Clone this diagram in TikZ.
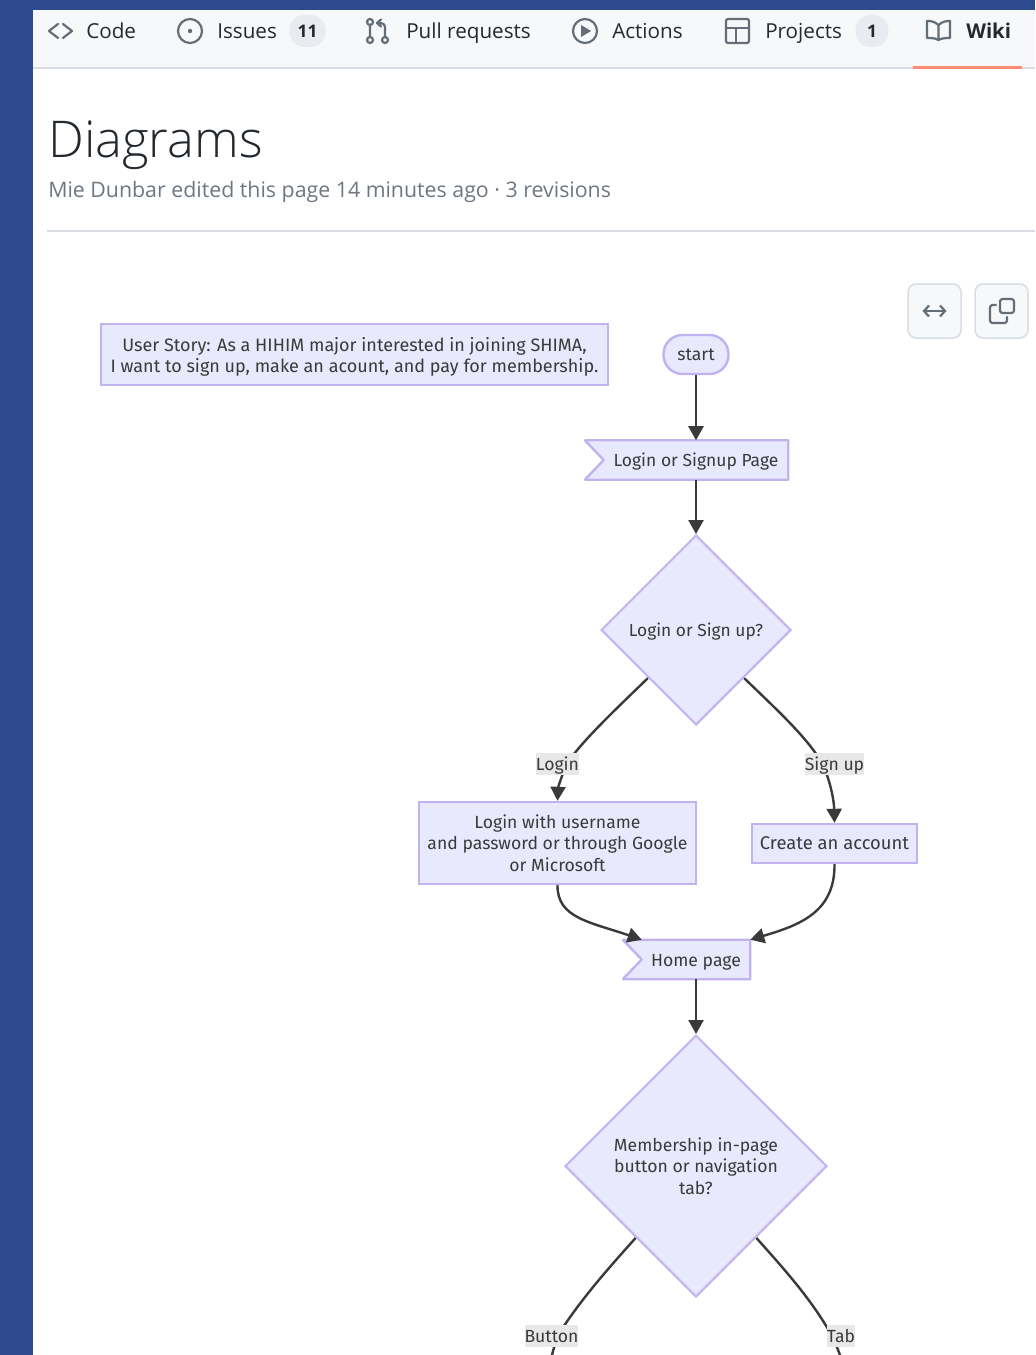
\documentclass[tikz,border=0pt]{standalone}
\usepackage{fontspec}
\setmainfont{Open Sans}
\newfontfamily\flowfont{Fira Sans}
\newfontfamily\titlefont{Open Sans Light}
\usetikzlibrary{arrows.meta,shapes.geometric,calc}
\definecolor{band}{HTML}{2F4B8F}
\definecolor{tabbg}{HTML}{F6F8FA}
\definecolor{rule}{HTML}{D8DEE4}
\definecolor{icon}{HTML}{656D76}
\definecolor{subtle}{HTML}{6E7781}
\definecolor{ink}{HTML}{24292F}
\definecolor{accent}{HTML}{FD8C73}
\definecolor{nodefill}{HTML}{E9E9FD}
\definecolor{nodeline}{HTML}{C2B2F0}
\definecolor{edgeline}{HTML}{3A3A3A}
\definecolor{edgelabel}{HTML}{E8E8E8}
\pgfdeclarelayer{page}
\pgfdeclarelayer{shapes}
\pgfdeclarelayer{edges}
\pgfsetlayers{page,shapes,edges,main}
\def\px{0.75pt}
\tikzset{
  tabtext/.style={anchor=west,inner sep=0pt,text=ink,text height=12pt,text depth=0.8pt,font=\fontsize{15.5}{18}\selectfont},
  badge/.style={fill=rule!60,rounded corners=15*\px,inner sep=0pt,text=ink,minimum height=32*\px,font=\fontsize{13}{16}\selectfont\bfseries},
  ico/.style={draw=icon,line width=2.2*\px,line cap=round,line join=round},
  toolbtn/.style={draw=rule,fill=tabbg,line width=1.5*\px,rounded corners=8*\px,minimum width=53*\px,minimum height=54*\px,inner sep=0pt},
  fsize/.style={font=\flowfont\fontsize{#1}{16}\selectfont},
  flowtext/.style={text=edgeline,fsize=13.2,align=center,inner sep=0pt},
  oneline/.style={text height=11.5pt,text depth=1.7pt},
  boxnode/.style={flowtext,draw=nodeline,fill=nodefill,line width=2.4*\px},
  flagtext/.style={flowtext,oneline,minimum height=39*\px},
  flagbox/.style={draw=nodeline,fill=nodefill,line width=2.4*\px,line join=bevel},
  decision/.style={flowtext,diamond,draw=nodeline,fill=nodefill,line width=2*\px,aspect=1},
  elabel/.style={flowtext,oneline,fill=edgelabel,minimum height=22*\px},
  link/.style={draw=edgeline,line width=2.4*\px,-{Triangle[width=15*\px,length=14*\px]}},
  linkplain/.style={draw=edgeline,line width=2.4*\px},
}
\begin{document}
\begin{tikzpicture}[x=0.75pt,y=-0.75pt]
\useasboundingbox (0,0) rectangle (1035,1355);
% page frame
\begin{pgfonlayer}{page}
\fill[white] (0,0) rectangle (1035,1355);
\fill[tabbg] (33,10) rectangle (1035,68);
\draw[rule,line width=2*\px] (33,68) -- (1035,68);
\fill[band] (0,0) rectangle (33,1355);
\fill[band] (0,0) rectangle (1035,10);
\fill[accent] (913,66) rectangle (1022,69);
\draw[rule,line width=1.5*\px] (47,231) -- (1035,231);
\end{pgfonlayer}
% tabs
\draw[ico] (58,24) -- (49,31) -- (58,38) (63,24) -- (72,31) -- (63,38);
\node[tabtext] (tcode) at (86,31) {Code};
\draw[ico] (190,31) circle (12); \fill[icon] (190,31) circle (2.2);
\node[tabtext] (tissues) at (217,31) {Issues};
\node[badge,minimum width=36*\px] (bissues) at (307.5,31) {11};
\draw[ico] (370,26) -- (370,37) (385,28) -- (385,37) (385,28) .. controls (385,24) and (383,23) .. (378,23) (381,19.5) -- (377,23) -- (381,26.5);
\draw[ico] (370,22) circle (3) (370,40) circle (3) (385,40) circle (3);
\node[tabtext] (tpull) at (406,31) {Pull requests};
\draw[ico] (585,31) circle (12); \fill[icon] (581,25) -- (591,31) -- (581,37) -- cycle;
\node[tabtext] (tactions) at (612,31) {Actions};
\draw[ico,rounded corners=2*\px] (726,19) rectangle (749,43);
\draw[ico] (726,28) -- (749,28) (736,28) -- (736,43);
\node[tabtext] (tprojects) at (765,31) {Projects};
\node[badge,minimum width=33*\px] (bprojects) at (872,31) {1};
\draw[ico] (938.5,25) .. controls (934,21) and (930,21) .. (927,21) -- (927,38) .. controls (931,38) and (935,38) .. (938.5,40) .. controls (942,38) and (946,38) .. (950,38) -- (950,21) .. controls (947,21) and (943,21) .. (938.5,25) -- cycle (938.5,25) -- (938.5,40);
\node[tabtext,font=\fontsize{15.3}{18}\selectfont\bfseries] (twiki) at (966,31) {Wiki};
% heading
\node[anchor=base west,inner sep=0pt,text=ink,font=\titlefont\fontsize{38}{42}\selectfont] (title) at (48,158) {Diagrams};
\node[tabtext,text=subtle,font=\fontsize{16}{18}\selectfont] (sub) at (48,190) {Mie Dunbar edited this page 14 minutes ago · 3 revisions};
% toolbar
\node[toolbtn] (bwrap) at (934.5,311) {};
\node[toolbtn] (bcopy) at (1001.5,311) {};
\draw[ico,{Straight Barb[length=5*\px,width=11*\px]}-{Straight Barb[length=5*\px,width=11*\px]}] ([xshift=-12*\px]bwrap.center) -- ([xshift=12*\px]bwrap.center);
\draw[ico,rounded corners=2.5*\px] (1000,299) rectangle (1014,313);
\draw[ico,rounded corners=2.5*\px] (996,305) -- (990,305) -- (990,323) -- (1007,323) -- (1007,317);
% flow nodes
\node[boxnode,fsize=13.5,minimum width=507*\px,minimum height=61*\px] (story) at (354.5,354.5) {\rule{0pt}{14pt}User Story: As a HIHIM major interested in joining SHIMA,\\I want to sign up, make an acount, and pay for membership.};
\node[boxnode,rounded corners=19*\px,minimum width=65*\px,minimum height=39*\px] (start) at (696,354.5) {start};
\node[flagtext,fsize=13.1,minimum width=184*\px] (lpage) at (696,460) {Login or Signup Page};
\node[decision,oneline,fsize=13,minimum width=190*\px,minimum height=190*\px] (d1) at (696,630) {Login or Sign up?};
\node[boxnode,minimum width=277*\px,minimum height=82*\px] (lbox) at (557.5,843) {Login with username\\and password or through Google\\or Microsoft};
\node[boxnode,fsize=13.8,minimum width=165*\px,minimum height=39*\px] (cbox) at (834.5,843.5) {Create an account};
\node[flagtext,minimum width=108*\px] (home) at (696,959.5) {Home page};
\node[decision,minimum width=262*\px,minimum height=262*\px] (d2) at (696,1166) {Membership in-page\\button or navigation\\tab?};
\node[elabel,minimum width=43*\px] (llogin) at (557.5,764) {Login};
\node[elabel,minimum width=59*\px] (lsign) at (834.5,764) {Sign up};
\node[elabel,minimum width=53*\px] (lbutton) at (551.5,1336) {Button};
\node[elabel,minimum width=28*\px] (ltab) at (841,1336) {Tab};
\coordinate (endb) at (552,1355);
\coordinate (endt) at (840,1355);
\begin{pgfonlayer}{shapes}
\draw[flagbox] ([xshift=-19*\px]lpage.north west) -- (lpage.north east) -- (lpage.south east) -- ([xshift=-19*\px]lpage.south west) -- (lpage.west) -- cycle;
\draw[flagbox] ([xshift=-19*\px]home.north west) -- (home.north east) -- (home.south east) -- ([xshift=-19*\px]home.south west) -- (home.west) -- cycle;
\end{pgfonlayer}
\begin{pgfonlayer}{edges}
\draw[link] (start.south) -- (lpage.north);
\draw[link] (lpage.south) -- (d1.north);
\draw[link] (d1.south west) .. controls (615,710) and (583,740) .. ([xshift=9*\px]llogin.center) .. controls (561,778) and (558,788) .. (lbox.north);
\draw[link] (d1.south east) .. controls (775,708) and (808,738) .. ([xshift=-12*\px]lsign.center) .. controls (830,780) and (834,800) .. (cbox.north);
\draw[link] (lbox.south) .. controls (557,918) and (590,922) .. (home.north west);
\draw[link] (cbox.south) .. controls (835,912) and (800,925) .. (home.north east);
\draw[link] (home.south) -- (d2.north);
\draw[linkplain] (d2.-130) .. controls (605,1272) and (578,1303) .. ([xshift=6*\px]lbutton.center) .. controls (556,1342) and (553,1350) .. (endb);
\draw[linkplain] (d2.-50) .. controls (785,1270) and (812,1300) .. ([xshift=-9*\px]ltab.center) .. controls (836,1344) and (838,1350) .. (endt);
\end{pgfonlayer}
\end{tikzpicture}
\end{document}
